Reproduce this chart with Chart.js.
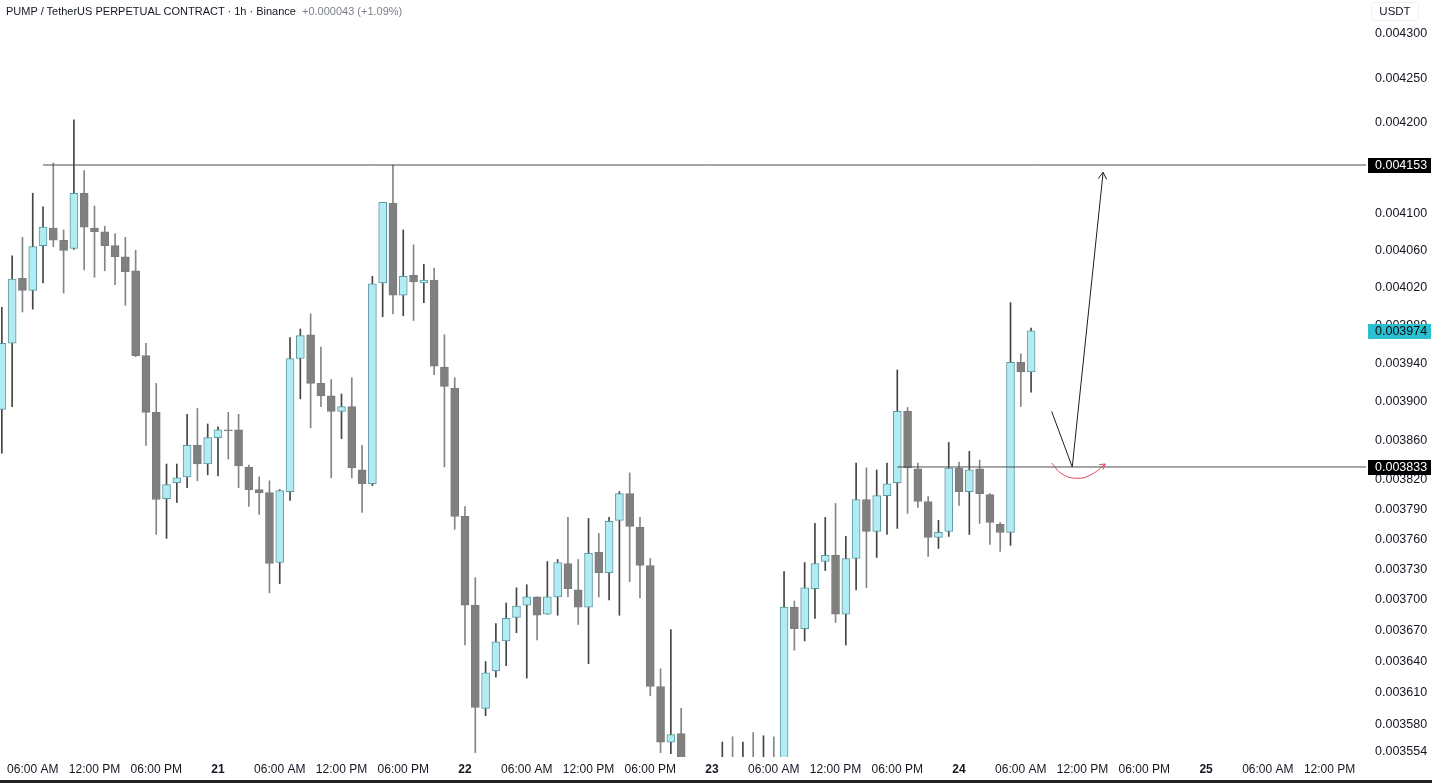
<!DOCTYPE html>
<html>
<head>
<meta charset="utf-8">
<script src="https://cdn.jsdelivr.net/npm/chart.js@4.4.0/dist/chart.umd.min.js"></script>
<style>
html,body{margin:0;padding:0;background:#fff;width:1432px;height:783px;overflow:hidden;font-family:"Liberation Sans",Arial,sans-serif;}
#wrap{position:relative;width:1432px;height:783px;}
#c{position:absolute;left:0;top:0;}
#title{position:absolute;left:6px;top:5px;font-size:11px;color:#131722;white-space:nowrap;z-index:2;}
#title .chg{color:#7b8089;margin-left:6px;}
#unit{position:absolute;left:1371px;top:2px;width:46px;height:17px;line-height:17px;text-align:center;font-size:11.5px;color:#131722;border:1px solid #eef0f3;border-radius:3px;z-index:2;}
#bottom{position:absolute;left:0;top:780px;width:1432px;height:3px;background:#222;z-index:2;}
</style>
</head>
<body>
<div id="wrap">
<canvas id="c" width="1432" height="783"></canvas>
<div id="title">PUMP / TetherUS PERPETUAL CONTRACT · 1h · Binance<span class="chg">+0.000043 (+1.09%)</span></div>
<div id="unit">USDT</div>
<div id="bottom"></div>
</div>
<script>
// ---- data (hour index counted from Sep 20 00:00, 1h candles) ----
const hours = [3,4,5,6,7,8,9,10,11,12,13,14,15,16,17,18,19,20,21,22,23,24,25,26,27,28,29,30,31,32,33,34,35,36,37,38,39,40,41,42,43,44,45,46,47,48,49,50,51,52,53,54,55,56,57,58,59,60,61,62,63,64,65,66,67,68,69,70,71,72,73,74,75,76,77,78,79,80,81,82,83,84,85,86,87,88,89,90,91,92,93,94,95,96,97,98,99,100,101,102,103];
const opens = [0.003892,0.003961,0.004030,0.004017,0.004065,0.004084,0.004071,0.004062,0.004122,0.004084,0.004080,0.004065,0.004053,0.004038,0.003948,0.003889,0.003801,0.003817,0.003823,0.003855,0.003836,0.003863,0.003871,0.003871,0.003833,0.003810,0.003807,0.003737,0.003808,0.003945,0.003970,0.003919,0.003906,0.003890,0.003895,0.003830,0.003816,0.004025,0.004111,0.004012,0.004033,0.004025,0.004028,0.003936,0.003914,0.003783,0.003695,0.003595,0.003631,0.003660,0.003683,0.003695,0.003703,0.003686,0.003703,0.003736,0.003710,0.003693,0.003747,0.003727,0.003779,0.003806,0.003772,0.003734,0.003616,0.003563,0.003571,0.003538,0.003530,0.003536,0.003540,0.003544,0.003541,0.003546,0.003543,0.003547,0.003545,0.003693,0.003672,0.003711,0.003738,0.003744,0.003686,0.003741,0.003800,0.003768,0.003804,0.003817,0.003890,0.003831,0.003798,0.003762,0.003768,0.003832,0.003808,0.003831,0.003805,0.003775,0.003767,0.003941,0.003931];
const highs = [0.003999,0.004054,0.004074,0.004122,0.004107,0.004155,0.004082,0.004203,0.004147,0.004108,0.004086,0.004078,0.004074,0.004060,0.003961,0.003919,0.003836,0.003836,0.003887,0.003893,0.003877,0.003874,0.003889,0.003887,0.003835,0.003823,0.003819,0.003810,0.003967,0.003976,0.003992,0.003957,0.003923,0.003908,0.003925,0.003855,0.004032,0.004112,0.004153,0.004082,0.004066,0.004045,0.004041,0.003970,0.003925,0.003793,0.003722,0.003640,0.003677,0.003697,0.003712,0.003715,0.003703,0.003738,0.003740,0.003782,0.003740,0.003781,0.003766,0.003782,0.003808,0.003827,0.003782,0.003741,0.003633,0.003671,0.003595,0.003546,0.003544,0.003545,0.003563,0.003568,0.003563,0.003572,0.003569,0.003568,0.003728,0.003699,0.003737,0.003776,0.003782,0.003796,0.003763,0.003837,0.003832,0.003830,0.003837,0.003933,0.003894,0.003837,0.003803,0.003779,0.003858,0.003838,0.003849,0.003840,0.003806,0.003777,0.004004,0.003950,0.003977];
const lows = [0.003847,0.003895,0.003994,0.003997,0.004025,0.004064,0.004014,0.004061,0.004039,0.004031,0.004038,0.004023,0.004001,0.003947,0.003855,0.003765,0.003761,0.003797,0.003812,0.003819,0.003825,0.003824,0.003841,0.003812,0.003793,0.003785,0.003707,0.003716,0.003799,0.003903,0.003873,0.003895,0.003822,0.003862,0.003822,0.003787,0.003814,0.003989,0.003992,0.003990,0.003985,0.004004,0.003928,0.003833,0.003770,0.003656,0.003553,0.003588,0.003625,0.003636,0.003668,0.003624,0.003661,0.003686,0.003685,0.003703,0.003676,0.003638,0.003703,0.003700,0.003685,0.003718,0.003702,0.003607,0.003553,0.003552,0.003530,0.003522,0.003518,0.003524,0.003530,0.003533,0.003532,0.003536,0.003535,0.003538,0.003540,0.003651,0.003660,0.003682,0.003729,0.003678,0.003656,0.003710,0.003712,0.003742,0.003765,0.003771,0.003786,0.003792,0.003743,0.003751,0.003763,0.003794,0.003765,0.003776,0.003755,0.003748,0.003754,0.003895,0.003910];
const closes = [0.003961,0.004029,0.004017,0.004064,0.004085,0.004071,0.004060,0.004122,0.004085,0.004080,0.004065,0.004053,0.004037,0.003948,0.003889,0.003800,0.003815,0.003822,0.003855,0.003836,0.003863,0.003871,0.003870,0.003834,0.003810,0.003807,0.003736,0.003809,0.003945,0.003969,0.003919,0.003906,0.003890,0.003895,0.003832,0.003816,0.004024,0.004112,0.004012,0.004032,0.004026,0.004028,0.003937,0.003916,0.003783,0.003695,0.003596,0.003629,0.003659,0.003682,0.003694,0.003703,0.003685,0.003703,0.003737,0.003711,0.003693,0.003746,0.003727,0.003778,0.003806,0.003773,0.003734,0.003616,0.003563,0.003570,0.003538,0.003530,0.003536,0.003540,0.003544,0.003541,0.003546,0.003543,0.003547,0.003545,0.003693,0.003672,0.003712,0.003736,0.003744,0.003686,0.003741,0.003800,0.003768,0.003804,0.003816,0.003890,0.003832,0.003798,0.003762,0.003767,0.003832,0.003808,0.003830,0.003806,0.003777,0.003767,0.003941,0.003931,0.003974];

const yTicks = [0.0043,0.00425,0.0042,0.00415,0.0041,0.00406,0.00402,0.00398,0.00394,0.0039,0.00386,0.00382,0.00379,0.00376,0.00373,0.0037,0.00367,0.00364,0.00361,0.00358,0.003554];
const xTickHours = [6,12,18,24,30,36,42,48,54,60,66,72,78,84,90,96,102,108,114,120,126,132];
const xTickLabels = ['06:00 AM','12:00 PM','06:00 PM','21','06:00 AM','12:00 PM','06:00 PM','22','06:00 AM','12:00 PM','06:00 PM','23','06:00 AM','12:00 PM','06:00 PM','24','06:00 AM','12:00 PM','06:00 PM','25','06:00 AM','12:00 PM'];
const dayTickHours = [24,48,72,96,120];

const levelPrices = [0.004153, 0.003833];
const levelStartHours = [7, 90];
const lastPrice = 0.003974;
const arrowHours = [105, 107, 110];
const arrowPrices = [0.003890, 0.003833, 0.004145];
const curveHours = [105.0, 106.0, 107.4, 108.8, 110.2];
const curvePrices = [0.003837, 0.003826, 0.0038215, 0.003825, 0.003836];

const X_MIN = 2.82, X_MAX = 135.54, Y_MIN = 0.0035489, Y_MAX = 0.004339;

const BULL_FILL = '#b2ebf2', BULL_BORDER = '#5e9aa3', BULL_WICK = '#444444';
const BEAR_FILL = '#808080', BEAR_BORDER = '#7a7a7a', BEAR_WICK = '#858585';
const FONT = '"Liberation Sans", Arial, sans-serif';

const isBull = i => closes[i] >= opens[i];

const wickData = hours.map((h, i) => ({x: h, y: [lows[i], highs[i]]}));
const bodyData = hours.map((h, i) => ({x: h, y: [Math.min(opens[i], closes[i]), Math.max(opens[i], closes[i])]}));

const datasets = [
  {type:'bar', data: wickData, barThickness: 1, grouped: false, order: 3,
   backgroundColor: c => isBull(c.dataIndex) ? BULL_WICK : BEAR_WICK, borderWidth: 0},
  {type:'bar', data: bodyData, barThickness: 8, grouped: false, order: 2, minBarLength: 1,
   backgroundColor: c => isBull(c.dataIndex) ? BULL_FILL : BEAR_FILL,
   borderColor: c => isBull(c.dataIndex) ? BULL_BORDER : BEAR_BORDER,
   borderWidth: 1, borderSkipped: false}
];
levelPrices.forEach((p, i) => {
  datasets.push({type:'line', order: 1, data: [{x: levelStartHours[i], y: p}, {x: X_MAX, y: p}],
    borderColor: '#4d4d4d', borderWidth: 1, pointRadius: 0, tension: 0});
});
datasets.push({type:'line', order: 1, data: arrowHours.map((h, i) => ({x: h, y: arrowPrices[i]})),
  borderColor: '#1e1e1e', borderWidth: 1, pointRadius: 0, tension: 0});
datasets.push({type:'line', order: 1, data: curveHours.map((h, i) => ({x: h, y: curvePrices[i]})),
  borderColor: '#e0425a', borderWidth: 1, pointRadius: 0, tension: 0.45});

function head(ctx, x0, y0, x1, y1, color, len) {
  const a = Math.atan2(y1 - y0, x1 - x0);
  ctx.save();
  ctx.strokeStyle = color; ctx.lineWidth = 1;
  ctx.beginPath();
  ctx.moveTo(x1 - len * Math.cos(a - 0.55), y1 - len * Math.sin(a - 0.55));
  ctx.lineTo(x1, y1);
  ctx.lineTo(x1 - len * Math.cos(a + 0.55), y1 - len * Math.sin(a + 0.55));
  ctx.stroke();
  ctx.restore();
}
function priceBox(ctx, yPix, bg, fg, text) {
  ctx.save();
  ctx.fillStyle = bg;
  ctx.fillRect(1368, Math.round(yPix) - 7, 63, 15);
  ctx.fillStyle = fg;
  ctx.font = '12.5px ' + FONT;
  ctx.textBaseline = 'middle';
  ctx.textAlign = 'left';
  ctx.fillText(text, 1375, Math.round(yPix) + 0.5);
  ctx.restore();
}

const overlay = {
  id: 'overlay',
  afterDraw(chart) {
    const {ctx} = chart; const x = chart.scales.x, y = chart.scales.y;
    const n = arrowHours.length;
    head(ctx, x.getPixelForValue(arrowHours[n-2]), y.getPixelForValue(arrowPrices[n-2]),
              x.getPixelForValue(arrowHours[n-1]), y.getPixelForValue(arrowPrices[n-1]), '#1e1e1e', 8);
    const m = curveHours.length;
    head(ctx, x.getPixelForValue(curveHours[m-2]), y.getPixelForValue(curvePrices[m-2]),
              x.getPixelForValue(curveHours[m-1]), y.getPixelForValue(curvePrices[m-1]), '#e0425a', 6);
    levelPrices.forEach(p => priceBox(ctx, y.getPixelForValue(p), '#000000', '#ffffff', p.toFixed(6)));
    priceBox(ctx, y.getPixelForValue(lastPrice), '#2bbfd2', '#0b0b0b', lastPrice.toFixed(6));
  }
};

new Chart(document.getElementById('c'), {
  type: 'bar',
  data: {datasets},
  options: {
    responsive: false, devicePixelRatio: 1, animation: false, events: [],
    layout: {padding: 0},
    plugins: {legend: {display: false}, tooltip: {enabled: false}},
    scales: {
      x: {
        type: 'linear', position: 'bottom', min: X_MIN, max: X_MAX, bounds: 'data', offset: false,
        grid: {display: false, drawTicks: false}, border: {display: false},
        afterBuildTicks: s => { s.ticks = xTickHours.map(v => ({value: v})); },
        afterFit: s => { s.height = 26; s.paddingLeft = 0; s.paddingRight = 0; },
        ticks: {
          autoSkip: false, maxRotation: 0, padding: 5, color: '#131722',
          font: c => ({family: FONT, size: 12, weight: (c.tick && dayTickHours.includes(c.tick.value)) ? 'bold' : 'normal'}),
          callback: v => { const i = xTickHours.indexOf(v); return i >= 0 ? xTickLabels[i] : ''; }
        }
      },
      y: {
        type: 'logarithmic', position: 'right', min: Y_MIN, max: Y_MAX, bounds: 'data',
        grid: {display: false, drawTicks: false}, border: {display: false},
        afterBuildTicks: s => { s.ticks = yTicks.map(v => ({value: v})); },
        afterFit: s => { s.width = 66; s.paddingTop = 0; s.paddingBottom = 0; },
        ticks: {
          autoSkip: false, padding: 9, color: '#131722', font: {family: FONT, size: 12.5},
          callback: v => Number(v).toFixed(6)
        }
      }
    }
  },
  plugins: [overlay]
});
</script>
</body>
</html>
